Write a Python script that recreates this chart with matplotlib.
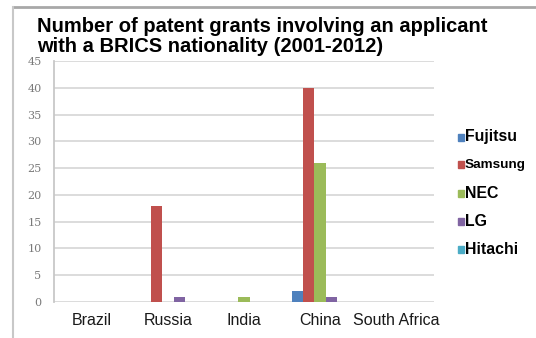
import numpy as np
import matplotlib.pyplot as plt
from matplotlib.patches import Rectangle
from matplotlib.lines import Line2D

countries = ["Brazil", "Russia", "India", "China", "South Africa"]
companies = ["Fujitsu", "Samsung", "NEC", "LG", "Hitachi"]
colors = ["#4F81BD", "#C0504D", "#9BBB59", "#8064A2", "#4BACC6"]
fujitsu = [0, 0, 0, 2, 0]
samsung = [0, 18, 0, 40, 0]
nec = [0, 0, 1, 26, 0]
lg = [0, 1, 0, 1, 0]
hitachi = [0, 0, 0, 0, 0]
series = [fujitsu, samsung, nec, lg, hitachi]
yticks = list(range(0, 50, 5))

W, H = 536, 338
fig = plt.figure(figsize=(W / 100, H / 100), dpi=100)
ax = fig.add_axes([54 / W, (H - 302) / H, (434 - 54) / W, (302 - 61) / H])

x = np.arange(len(countries))
bw = 0.15
for i, (name, vals) in enumerate(zip(companies, series)):
    ax.bar(x + (i - 2) * bw, vals, bw, color=colors[i], zorder=3)

ax.set_xlim(-0.5, len(countries) - 0.5)
ax.set_ylim(0, 45)
ax.set_yticks(yticks)
ax.set_yticklabels([str(t) for t in yticks], family="DejaVu Serif",
                   fontsize=8, color="#7a7a7a")
ax.set_xticks(x)
ax.set_xticklabels(countries, family="Liberation Sans", fontsize=11.5, color="#1a1a1a")
ax.tick_params(length=0)
ax.tick_params(axis="y", pad=9)
ax.tick_params(axis="x", pad=8)
ax.grid(axis="y", color="#d9d9d9", linewidth=1.3, zorder=0)
for s in ["top", "right", "bottom"]:
    ax.spines[s].set_visible(False)
ax.spines["left"].set_color("#c8c8c8")
ax.spines["left"].set_linewidth(1.3)

# title
fig.text(37 / W, 1 - 17 / H, "Number of patent grants involving an applicant\nwith a BRICS nationality (2001-2012)",
         family="Liberation Sans", fontweight="bold", fontsize=14.5, ha="left", va="top",
         linespacing=1.05, color="black")

# legend
sizes = [11.4, 9.7, 11.4, 11.4, 11.4]
for i, name in enumerate(companies):
    yc = 137 + 28 * i
    fig.add_artist(Rectangle((458 / W, 1 - (yc + 3.5) / H), 6 / W, 7 / H,
                             transform=fig.transFigure, color=colors[i]))
    fig.text(465 / W, 1 - yc / H, name, family="Liberation Sans", fontweight="bold",
             fontsize=sizes[i], ha="left", va="center", color="black")

# outer frame
fig.add_artist(Line2D([13 / W, 1], [1 - 7 / H, 1 - 7 / H], transform=fig.transFigure,
                      color="#a8a8a8", linewidth=2))
fig.add_artist(Line2D([13 / W, 13 / W], [1 - 7 / H, 0], transform=fig.transFigure,
                      color="#c8c8c8", linewidth=1.5))

fig.savefig("out.png", dpi=100)
